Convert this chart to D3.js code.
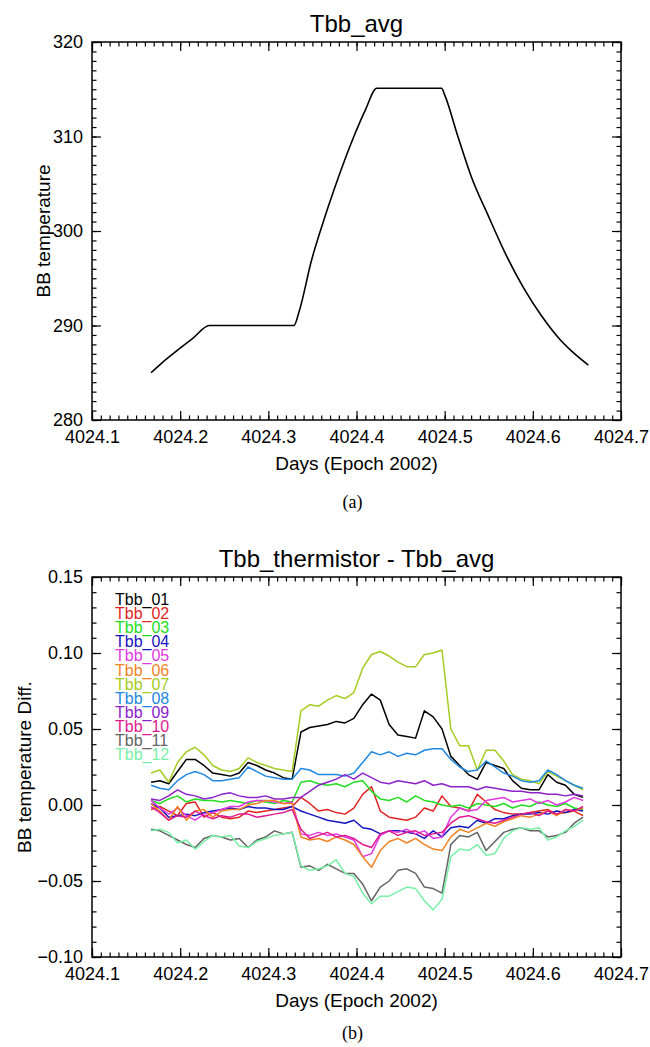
<!DOCTYPE html>
<html>
<head>
<meta charset="utf-8">
<script src="https://cdn.jsdelivr.net/npm/d3@7"></script>
<style>
  body { margin: 0; background: #fff; }
  svg { display: block; }
  text { font-family: "Liberation Sans", Arial, sans-serif; fill: #000; }
  .caption { font-family: "Liberation Serif", "Times New Roman", serif; }
</style>
</head>
<body>
<svg id="chart" width="650" height="1047"></svg>
<script>
// panel (a): average blackbody temperature
const avgDays = [4024.167, 4024.180, 4024.200, 4024.215, 4024.233, 4024.329, 4024.335, 4024.349,
    4024.360, 4024.375, 4024.397, 4024.410, 4024.423, 4024.4965, 4024.500, 4024.515, 4024.530,
    4024.550, 4024.570, 4024.590, 4024.610, 4024.630, 4024.645, 4024.663];
const avgTemp = [285.0, 286.1, 287.6, 288.7, 290.0, 290.0, 291.5, 296.9,
    300.3, 304.5, 310.0, 312.8, 315.1, 315.1, 314.4, 310.0, 305.8,
    301.5, 297.4, 293.9, 291.0, 288.6, 287.2, 285.8];

// panel (b): thermistor minus average
const days = [4024.167, 4024.177, 4024.187, 4024.197, 4024.207, 4024.217, 4024.227, 4024.237, 4024.247, 4024.257,
    4024.267, 4024.277, 4024.287, 4024.297, 4024.307, 4024.317, 4024.327, 4024.337, 4024.347, 4024.357,
    4024.367, 4024.377, 4024.387, 4024.397, 4024.407, 4024.417, 4024.427, 4024.437, 4024.447, 4024.457,
    4024.467, 4024.477, 4024.487, 4024.497, 4024.507, 4024.517, 4024.527, 4024.537, 4024.547, 4024.557,
    4024.567, 4024.577, 4024.587, 4024.597, 4024.607, 4024.617, 4024.627, 4024.637, 4024.647, 4024.657];

const tbb01 = [0.015, 0.016, 0.014, 0.022, 0.030, 0.030, 0.026, 0.021, 0.020, 0.019,
    0.021, 0.028, 0.026, 0.023, 0.021, 0.018, 0.017, 0.048, 0.051, 0.052,
    0.053, 0.055, 0.054, 0.057, 0.066, 0.073, 0.069, 0.053, 0.046, 0.045,
    0.044, 0.062, 0.058, 0.050, 0.032, 0.026, 0.020, 0.017, 0.028, 0.026,
    0.024, 0.016, 0.011, 0.010, 0.010, 0.020, 0.015, 0.013, 0.007, 0.005];
const tbb02 = [-0.003, -0.001, -0.004, -0.007, 0.001, 0.002, -0.008, -0.005, -0.008, -0.009,
    -0.008, -0.004, -0.005, -0.004, -0.003, -0.002, -0.001, 0.005, 0.001, -0.004,
    -0.003, -0.005, -0.006, -0.002, 0.007, 0.012, -0.004, -0.008, -0.009, -0.010,
    -0.008, -0.002, -0.004, 0.006, -0.001, -0.002, -0.004, 0.007, 0.002, -0.003,
    -0.005, -0.006, -0.006, -0.005, -0.004, -0.003, -0.006, -0.005, -0.004, -0.007];
const tbb03 = [0.003, 0.001, 0.004, 0.006, 0.002, 0.004, 0.003, 0.003, 0.002, 0.003,
    0.002, 0.001, 0.003, 0.002, 0.001, 0.003, 0.002, 0.015, 0.016, 0.014,
    0.013, 0.014, 0.012, 0.015, 0.016, 0.009, 0.004, 0.003, 0.005, 0.002,
    0.006, 0.003, 0.002, 0.000, -0.001, 0.000, -0.002, 0.001, 0.000, -0.001,
    0.001, -0.002, 0.000, -0.001, 0.002, 0.000, -0.001, 0.001, -0.002, -0.003];
const tbb04 = [0.001, -0.002, -0.008, -0.007, -0.006, -0.007, -0.005, -0.004, -0.003, -0.002,
    -0.003, -0.001, -0.002, -0.002, -0.003, -0.003, -0.001, -0.004, -0.006, -0.008,
    -0.010, -0.011, -0.012, -0.010, -0.015, -0.016, -0.019, -0.017, -0.017, -0.018,
    -0.019, -0.022, -0.017, -0.021, -0.015, -0.014, -0.015, -0.010, -0.012, -0.009,
    -0.009, -0.007, -0.006, -0.006, -0.005, -0.006, -0.004, -0.005, -0.003, -0.004];
const tbb05 = [0.003, -0.002, -0.006, -0.002, -0.007, -0.010, -0.006, -0.005, -0.003, -0.001,
    -0.001, 0.002, 0.003, 0.003, 0.002, 0.001, 0.002, -0.019, -0.020, -0.018,
    -0.020, -0.019, -0.021, -0.023, -0.034, -0.032, -0.020, -0.017, -0.018, -0.016,
    -0.019, -0.017, -0.022, -0.021, -0.008, -0.002, -0.004, -0.003, 0.003, 0.004,
    0.005, 0.002, 0.003, 0.004, 0.001, 0.003, 0.000, 0.002, 0.005, 0.003];
const tbb06 = [0.001, -0.004, -0.010, -0.001, -0.010, -0.004, -0.003, -0.008, -0.004, -0.003,
    -0.003, 0.000, 0.001, 0.003, 0.003, 0.001, 0.001, -0.021, -0.023, -0.022,
    -0.024, -0.021, -0.023, -0.026, -0.034, -0.041, -0.030, -0.024, -0.022, -0.025,
    -0.022, -0.026, -0.029, -0.030, -0.021, -0.016, -0.018, -0.015, -0.012, -0.014,
    -0.011, -0.009, -0.007, -0.008, -0.006, -0.004, -0.007, -0.003, -0.004, -0.002];
const tbb07 = [0.021, 0.023, 0.015, 0.028, 0.035, 0.038, 0.033, 0.026, 0.023, 0.022,
    0.024, 0.031, 0.028, 0.026, 0.024, 0.023, 0.022, 0.062, 0.066, 0.065,
    0.069, 0.072, 0.070, 0.074, 0.090, 0.099, 0.101, 0.098, 0.094, 0.091,
    0.091, 0.099, 0.100, 0.102, 0.050, 0.039, 0.039, 0.023, 0.036, 0.036,
    0.029, 0.020, 0.017, 0.016, 0.014, 0.022, 0.019, 0.016, 0.013, 0.010];
const tbb08 = [0.013, 0.011, 0.010, 0.016, 0.020, 0.022, 0.020, 0.016, 0.016, 0.017,
    0.018, 0.025, 0.022, 0.019, 0.018, 0.017, 0.017, 0.024, 0.023, 0.020,
    0.020, 0.020, 0.019, 0.021, 0.028, 0.035, 0.033, 0.035, 0.032, 0.034,
    0.033, 0.036, 0.037, 0.037, 0.030, 0.025, 0.022, 0.023, 0.029, 0.025,
    0.021, 0.019, 0.016, 0.015, 0.016, 0.023, 0.020, 0.016, 0.013, 0.011];
const tbb09 = [0.004, 0.003, 0.006, 0.010, 0.007, 0.006, 0.004, 0.005, 0.007, 0.008,
    0.006, 0.005, 0.005, 0.006, 0.004, 0.004, 0.005, 0.005, 0.009, 0.013,
    0.015, 0.017, 0.020, 0.017, 0.021, 0.018, 0.015, 0.014, 0.016, 0.015,
    0.014, 0.016, 0.013, 0.014, 0.012, 0.012, 0.012, 0.010, 0.012, 0.011,
    0.010, 0.009, 0.009, 0.008, 0.008, 0.007, 0.007, 0.006, 0.007, 0.006];
const tbb10 = [-0.001, -0.005, -0.010, -0.007, -0.008, -0.004, -0.007, -0.009, -0.007, -0.008,
    -0.006, -0.006, -0.008, -0.007, -0.006, -0.005, -0.003, -0.016, -0.022, -0.020,
    -0.018, -0.021, -0.020, -0.022, -0.026, -0.028, -0.019, -0.017, -0.020, -0.018,
    -0.017, -0.020, -0.019, -0.018, -0.012, -0.008, -0.007, -0.009, -0.011, -0.012,
    -0.010, -0.008, -0.006, -0.005, -0.007, -0.004, -0.006, -0.003, -0.004, -0.001];
const tbb11 = [-0.016, -0.017, -0.020, -0.023, -0.026, -0.028, -0.022, -0.020, -0.021, -0.023,
    -0.022, -0.028, -0.023, -0.021, -0.017, -0.019, -0.018, -0.041, -0.040, -0.043,
    -0.039, -0.042, -0.045, -0.045, -0.052, -0.063, -0.054, -0.050, -0.043, -0.042,
    -0.045, -0.054, -0.055, -0.058, -0.026, -0.020, -0.021, -0.018, -0.030, -0.024,
    -0.018, -0.016, -0.015, -0.017, -0.017, -0.021, -0.020, -0.018, -0.012, -0.008];
const tbb12 = [-0.017, -0.016, -0.018, -0.025, -0.023, -0.029, -0.024, -0.020, -0.021, -0.020,
    -0.027, -0.028, -0.024, -0.022, -0.020, -0.019, -0.018, -0.040, -0.043, -0.042,
    -0.040, -0.036, -0.045, -0.047, -0.058, -0.065, -0.060, -0.060, -0.057, -0.054,
    -0.055, -0.063, -0.069, -0.062, -0.034, -0.029, -0.030, -0.026, -0.033, -0.032,
    -0.022, -0.017, -0.015, -0.016, -0.015, -0.023, -0.021, -0.017, -0.014, -0.010];

const seriesNames = ['Tbb_01', 'Tbb_02', 'Tbb_03', 'Tbb_04', 'Tbb_05', 'Tbb_06',
    'Tbb_07', 'Tbb_08', 'Tbb_09', 'Tbb_10', 'Tbb_11', 'Tbb_12'];
const seriesColors = ['#000000', '#e02424', '#22dd22', '#1414c0', '#e038e0', '#f08424',
    '#a4cc22', '#2088e0', '#8c22c8', '#e01890', '#646464', '#78f0a8'];
const seriesValues = [tbb01, tbb02, tbb03, tbb04, tbb05, tbb06, tbb07, tbb08, tbb09, tbb10, tbb11, tbb12];

const xTicks = [4024.1, 4024.2, 4024.3, 4024.4, 4024.5, 4024.6, 4024.7];
const yTicksA = [280, 290, 300, 310, 320];
const yTicksB = [-0.10, -0.05, 0.00, 0.05, 0.10, 0.15];

const svg = d3.select('#chart');
const left = 92, right = 621;

function drawFrame(g, x, y, cfg) {
    const top = y.range()[1], bottom = y.range()[0];
    const minorX = d3.range(0, 61).map(i => 4024.1 + i * 0.01);
    const minorY = d3.range(0, cfg.minorCount + 1).map(i => cfg.yDomain[0] + i * cfg.minorStep);

    // minor ticks, four sides
    g.append('g').attr('transform', `translate(0,${bottom})`)
        .call(d3.axisBottom(x).tickValues(minorX).tickSizeInner(-4.5).tickSizeOuter(0).tickFormat(''));
    g.append('g').attr('transform', `translate(0,${top})`)
        .call(d3.axisTop(x).tickValues(minorX).tickSizeInner(-4.5).tickSizeOuter(0).tickFormat(''));
    g.append('g').attr('transform', `translate(${left},0)`)
        .call(d3.axisLeft(y).tickValues(minorY).tickSizeInner(-4.5).tickSizeOuter(0).tickFormat(''));
    g.append('g').attr('transform', `translate(${right},0)`)
        .call(d3.axisRight(y).tickValues(minorY).tickSizeInner(-4.5).tickSizeOuter(0).tickFormat(''));

    // major ticks with labels
    const xAxis = g.append('g').attr('transform', `translate(0,${bottom})`)
        .call(d3.axisBottom(x).tickValues(xTicks).tickSizeInner(-9).tickSizeOuter(0)
            .tickPadding(10).tickFormat(d3.format('.1f')));
    g.append('g').attr('transform', `translate(0,${top})`)
        .call(d3.axisTop(x).tickValues(xTicks).tickSizeInner(-9).tickSizeOuter(0).tickFormat(''));
    const yAxis = g.append('g').attr('transform', `translate(${left},0)`)
        .call(d3.axisLeft(y).tickValues(cfg.yTicks).tickSizeInner(-9).tickSizeOuter(0)
            .tickPadding(9).tickFormat(cfg.yFormat));
    g.append('g').attr('transform', `translate(${right},0)`)
        .call(d3.axisRight(y).tickValues(cfg.yTicks).tickSizeInner(-9).tickSizeOuter(0).tickFormat(''));

    g.selectAll('.domain').remove();
    g.selectAll('.tick line').attr('stroke', '#000').attr('stroke-width', 1.2);
    xAxis.selectAll('text').attr('font-size', 18).attr('fill', '#000')
        .attr('font-family', '"Liberation Sans", Arial, sans-serif');
    yAxis.selectAll('text').attr('font-size', 18).attr('fill', '#000')
        .attr('font-family', '"Liberation Sans", Arial, sans-serif');

    g.append('rect')
        .attr('x', left).attr('y', top)
        .attr('width', right - left).attr('height', bottom - top)
        .attr('fill', 'none').attr('stroke', '#000').attr('stroke-width', 1.5);

    g.append('text')
        .attr('x', (left + right) / 2).attr('y', top - 10)
        .attr('text-anchor', 'middle').attr('font-size', 24)
        .text(cfg.title);
    g.append('text')
        .attr('x', (left + right) / 2).attr('y', bottom + 50)
        .attr('text-anchor', 'middle').attr('font-size', 19)
        .text('Days (Epoch 2002)');
    g.append('text')
        .attr('transform', `translate(${cfg.yTitleX},${(top + bottom) / 2}) rotate(-90)`)
        .attr('text-anchor', 'middle').attr('font-size', 19)
        .text(cfg.yTitle);
    g.append('text')
        .attr('class', 'caption')
        .attr('x', (left + right) / 2 - 4).attr('y', bottom + cfg.captionGap)
        .attr('text-anchor', 'middle').attr('font-size', 18)
        .text(cfg.caption);
}

// ---- panel (a)
const xA = d3.scaleLinear().domain([4024.1, 4024.7]).range([left, right]);
const yA = d3.scaleLinear().domain([280, 320]).range([420, 42]);
const gA = svg.append('g');
drawFrame(gA, xA, yA, {
    yDomain: [280, 320], yTicks: yTicksA, minorCount: 40, minorStep: 1,
    yFormat: d3.format('d'), title: 'Tbb_avg', yTitle: 'BB temperature', yTitleX: 50,
    caption: '(a)', captionGap: 88
});
gA.append('path')
    .datum(d3.zip(avgDays, avgTemp))
    .attr('fill', 'none').attr('stroke', '#000').attr('stroke-width', 1.6)
    .attr('d', d3.line().x(d => xA(d[0])).y(d => yA(d[1])).curve(d3.curveMonotoneX));

// ---- panel (b)
const xB = d3.scaleLinear().domain([4024.1, 4024.7]).range([left, right]);
const yB = d3.scaleLinear().domain([-0.10, 0.15]).range([957, 577]);
const gB = svg.append('g');
drawFrame(gB, xB, yB, {
    yDomain: [-0.10, 0.15], yTicks: yTicksB, minorCount: 25, minorStep: 0.01,
    yFormat: d3.format('.2f'), title: 'Tbb_thermistor - Tbb_avg', yTitle: 'BB temperature Diff.', yTitleX: 31,
    caption: '(b)', captionGap: 82
});

const lineB = d3.line().x(d => xB(d[0])).y(d => yB(d[1]));
gB.append('g')
    .selectAll('path')
    .data(seriesValues)
    .enter().append('path')
    .attr('fill', 'none')
    .attr('stroke', (d, i) => seriesColors[i])
    .attr('stroke-width', 1.5)
    .attr('stroke-linejoin', 'round')
    .attr('d', d => lineB(d3.zip(days, d)));

// legend, top left inside the box
gB.append('g')
    .selectAll('text')
    .data(seriesNames)
    .enter().append('text')
    .attr('x', 115)
    .attr('y', (d, i) => 605 + i * 14.1)
    .attr('font-size', 16)
    .style('fill', (d, i) => seriesColors[i])
    .text(d => d);
</script>
</body>
</html>
